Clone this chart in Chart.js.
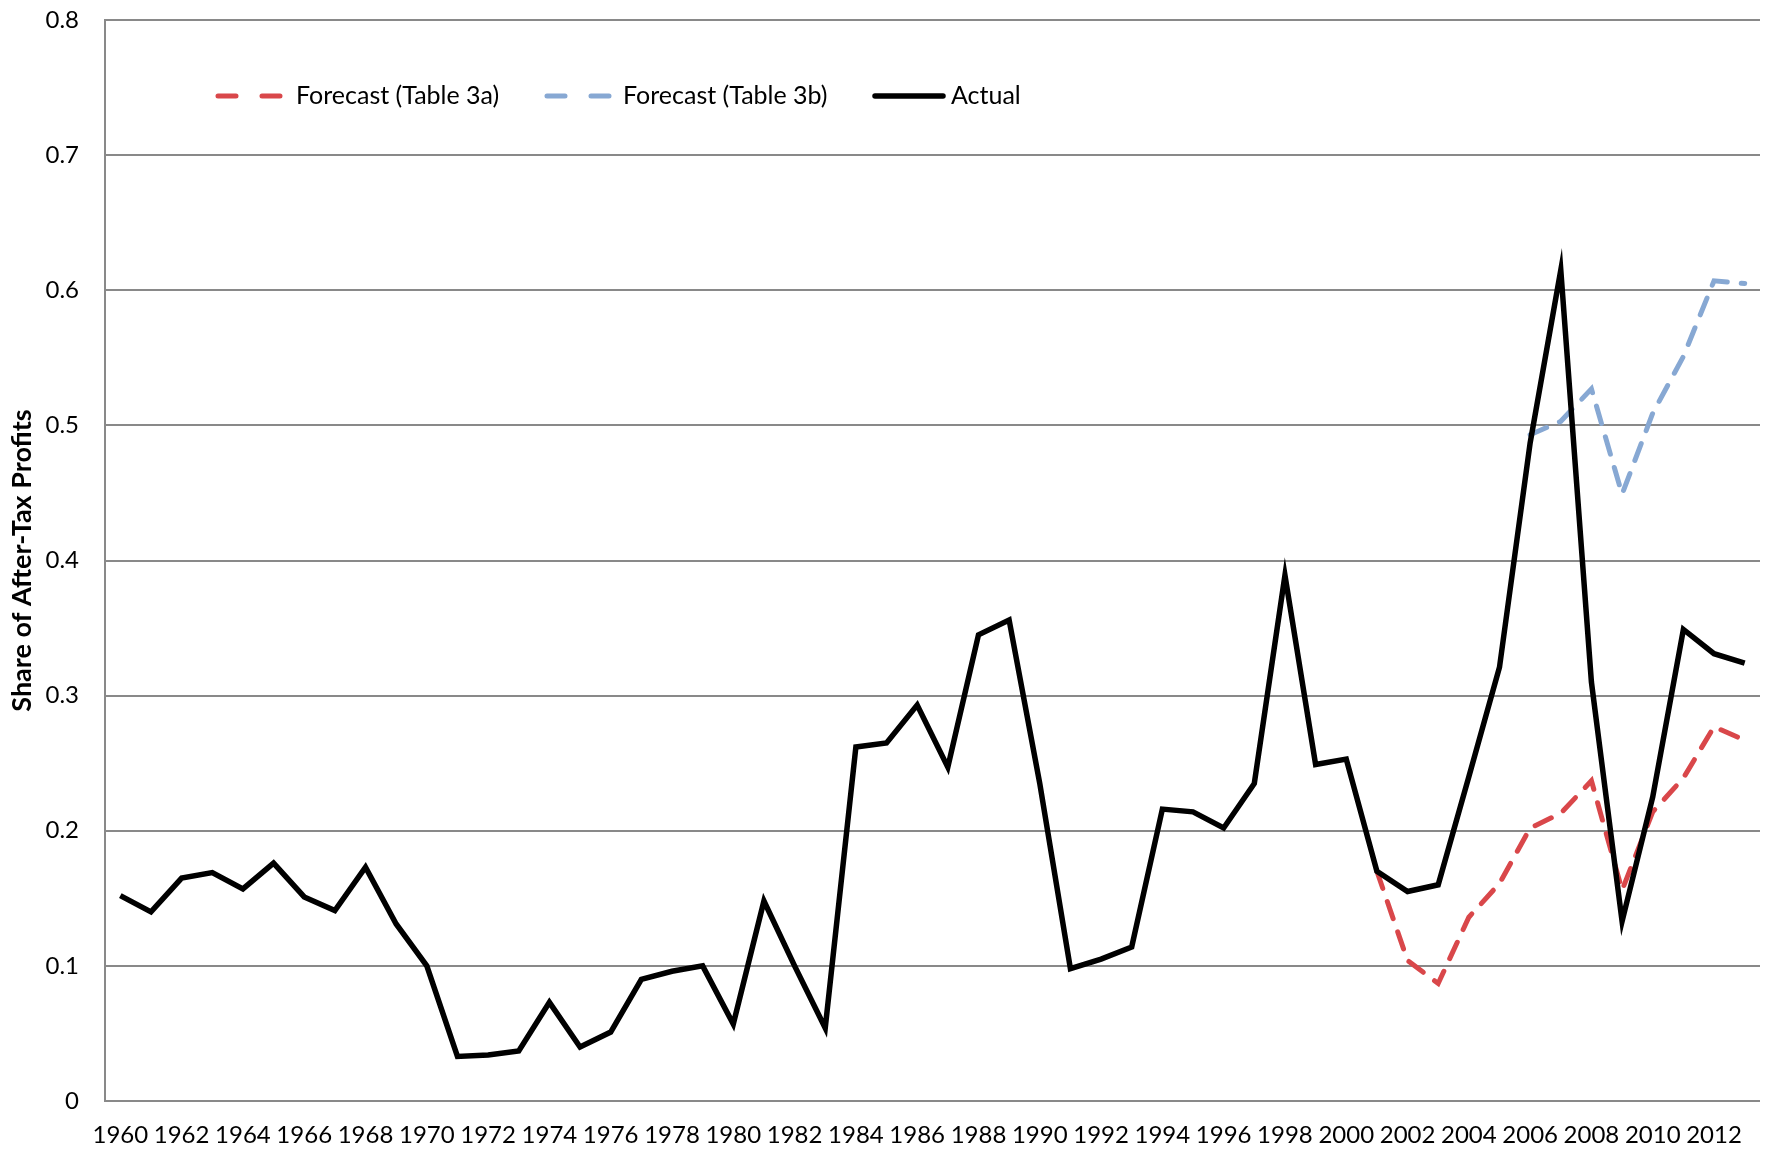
<!DOCTYPE html>
<html>
<head>
<meta charset="utf-8">
<script src="https://cdn.jsdelivr.net/npm/chart.js@4.4.1/dist/chart.umd.min.js"></script>
<style>
    html, body { margin: 0; padding: 0; background: #ffffff; }
    #wrap { position: relative; width: 1765px; height: 1151px; }
</style>
</head>
<body>
<div id="wrap"><canvas id="chart" width="1765" height="1151"></canvas></div>
<script>
const years = [];
for (let y = 1960; y <= 2013; y++) years.push(String(y));

// Actual share, 1960-2013
const actual = [
    0.152, 0.140, 0.165, 0.169, 0.157, 0.176, 0.151, 0.141, 0.173, 0.131,
    0.100, 0.033, 0.034, 0.037, 0.073, 0.040, 0.051, 0.090, 0.096, 0.100,
    0.057, 0.148, 0.100, 0.054, 0.262, 0.265, 0.293, 0.247, 0.345, 0.356,
    0.235, 0.098, 0.105, 0.114, 0.216, 0.214, 0.202, 0.235, 0.389, 0.249,
    0.253, 0.170, 0.155, 0.160, 0.240, 0.321, 0.487, 0.615, 0.310, 0.133,
    0.225, 0.349, 0.331, 0.324
];

// Forecast (Table 3a), 2001-2013
const forecastAStart = '2001';
const forecastA = [0.170, 0.104, 0.087, 0.136, 0.161, 0.202, 0.213, 0.237, 0.156, 0.214, 0.239, 0.277, 0.267];

// Forecast (Table 3b), 2006-2013
const forecastBStart = '2006';
const forecastB = [0.493, 0.503, 0.527, 0.449, 0.509, 0.551, 0.607, 0.605];

const yTicks = [0, 0.1, 0.2, 0.3, 0.4, 0.5, 0.6, 0.7, 0.8];

function padSeries(start, values) {
    const offset = years.indexOf(start);
    return years.map((_, i) => (i >= offset && i - offset < values.length) ? values[i - offset] : null);
}

const RED = '#d9474a';
const BLUE = '#87a8d3';
const GRID = '#898989';
const FONT = 'Lato, "Noto Sans", sans-serif';

Chart.defaults.font.family = FONT;
Chart.defaults.color = '#000000';

// legend drawn inside the plot, like the original
const legendPlugin = {
    id: 'insideLegend',
    afterDraw(chart) {
        const ctx = chart.ctx;
        const y = 96;
        const items = [
            { x1: 218, x2: 282, tx: 296, color: RED, dash: [18, 26], width: 5, text: 'Forecast (Table 3a)' },
            { x1: 547, x2: 611, tx: 623, color: BLUE, dash: [18, 26], width: 5, text: 'Forecast (Table 3b)' },
            { x1: 875, x2: 943, tx: 951, color: '#000000', dash: [], width: 5.5, text: 'Actual' }
        ];
        ctx.save();
        items.forEach(it => {
            ctx.beginPath();
            ctx.setLineDash(it.dash);
            ctx.lineCap = 'round';
            ctx.strokeStyle = it.color;
            ctx.lineWidth = it.width;
            ctx.moveTo(it.x1, y);
            ctx.lineTo(it.x2, y);
            ctx.stroke();
            ctx.setLineDash([]);
            ctx.fillStyle = '#000000';
            ctx.font = '25px ' + FONT;
            ctx.textBaseline = 'middle';
            ctx.textAlign = 'left';
            ctx.fillText(it.text, it.tx, y);
        });
        ctx.restore();
    }
};

new Chart(document.getElementById('chart').getContext('2d'), {
    type: 'line',
    data: {
        labels: years,
        datasets: [{
            label: 'Actual',
            data: actual,
            borderColor: '#000000',
            borderWidth: 5.5,
            pointRadius: 0,
            tension: 0,
            order: 1
        }, {
            label: 'Forecast (Table 3a)',
            data: padSeries(forecastAStart, forecastA),
            borderColor: RED,
            borderWidth: 5,
            borderDash: [18, 14],
            borderCapStyle: 'round',
            pointRadius: 0,
            tension: 0,
            order: 2
        }, {
            label: 'Forecast (Table 3b)',
            data: padSeries(forecastBStart, forecastB),
            borderColor: BLUE,
            borderWidth: 5,
            borderDash: [18, 14],
            borderCapStyle: 'round',
            pointRadius: 0,
            tension: 0,
            order: 2
        }]
    },
    options: {
        responsive: false,
        animation: false,
        layout: { padding: { top: 20, right: 5, left: 0, bottom: 0 } },
        plugins: {
            legend: { display: false },
            tooltip: { enabled: false }
        },
        scales: {
            x: {
                type: 'category',
                offset: true,
                grid: { display: false },
                border: { display: false },
                ticks: {
                    autoSkip: false,
                    maxRotation: 0,
                    minRotation: 0,
                    padding: 12,
                    font: { size: 24 },
                    callback: function(value, index) {
                        return index % 2 === 0 ? this.getLabelForValue(value) : '';
                    }
                },
                afterFit: scale => { scale.height = 50; }
            },
            y: {
                min: 0,
                max: 0.8,
                afterBuildTicks: scale => { scale.ticks = yTicks.map(v => ({ value: v })); },
                grid: { color: GRID, lineWidth: 2, drawTicks: false },
                border: { display: true, color: GRID, width: 2 },
                ticks: {
                    padding: 26,
                    font: { size: 24 },
                    callback: v => String(Math.round(v * 10) / 10)
                },
                title: {
                    display: true,
                    text: 'Share of After-Tax Profits',
                    font: { size: 27, weight: 'bold' },
                    padding: { top: 6, bottom: 0 }
                },
                afterFit: scale => {
                    scale.width = 105;
                    scale.paddingTop = 0;
                    scale.paddingBottom = 0;
                }
            }
        }
    },
    plugins: [legendPlugin]
});
</script>
</body>
</html>
